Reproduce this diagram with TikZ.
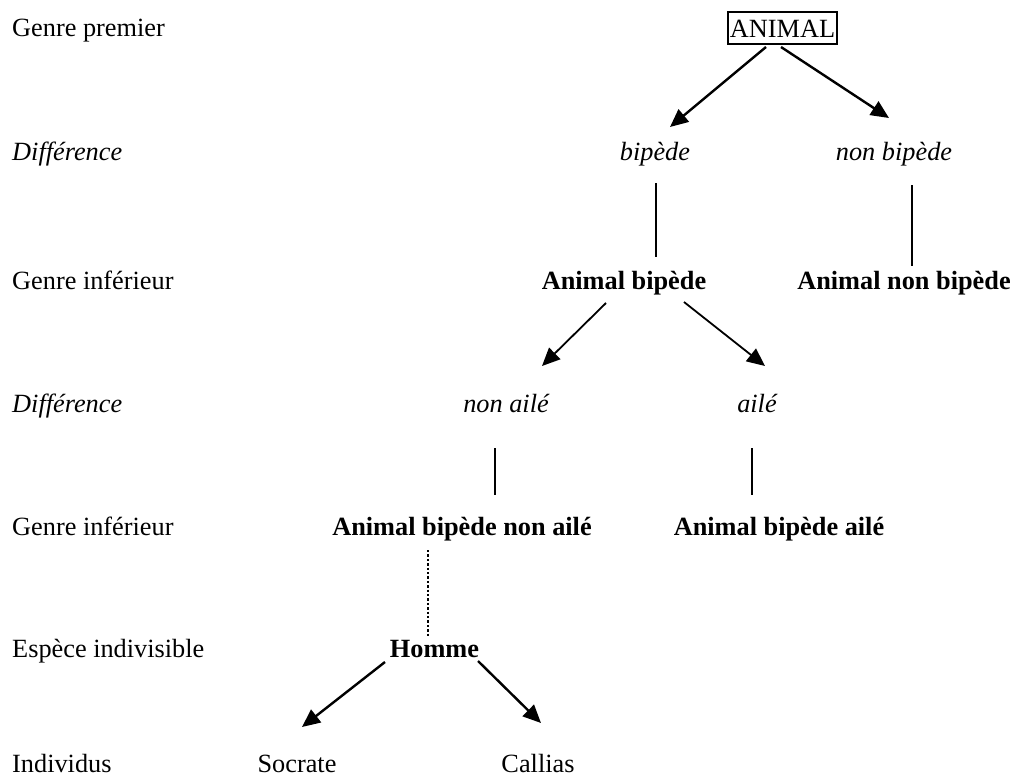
\documentclass[tikz,border=0pt]{standalone}
\usepackage{fontspec}
\setmainfont{Liberation Serif}
\usepackage{tikz}
\usetikzlibrary{arrows.meta,calc}

\begin{document}
\begin{tikzpicture}[x=1pt, y=-1pt,
    txt/.style={inner sep=0pt, anchor=base, font=\fontsize{26.3}{30}\selectfont},
    rang/.style={txt, anchor=base west},
    diff/.style={txt, font=\fontsize{26.3}{30}\selectfont\itshape},
    genre/.style={txt, font=\fontsize{26.3}{30}\selectfont\bfseries},
    fleche/.style={line width=2.4pt, -{Triangle[length=18pt,width=16pt]}},
    trait/.style={line width=2.4pt}]

  \useasboundingbox (0,0) rectangle (1013,782);

  % colonne de gauche
  \node[rang] (r1) at (12,36) {Genre premier};
  \node[rang, font=\fontsize{26.3}{30}\selectfont\itshape] (r2) at (12,160) {Différence};
  \node[rang] (r3) at (12,289) {Genre inférieur};
  \node[rang, font=\fontsize{26.3}{30}\selectfont\itshape] (r4) at (12,412) {Différence};
  \node[rang] (r5) at (12,535) {Genre inférieur};
  \node[rang] (r6) at (12,657) {Espèce indivisible};
  \node[rang] (r7) at (12,772) {Individus};

  % arbre
  \node[txt, draw, line width=1.6pt, inner xsep=2pt, text height=25pt, text depth=7pt]
    (animal) at (782.5,37) {ANIMAL};
  \node[diff] (bipede) at (655,160) {bipède};
  \node[diff] (nonbipede) at (894,160) {non bipède};
  \node[genre] (abip) at (624,289) {Animal bipède};
  \node[genre] (anonbip) at (904,289) {Animal non bipède};
  \node[diff] (nonaile) at (506,412) {non ailé};
  \node[diff] (aile) at (757,412) {ailé};
  \node[genre] (abipna) at (462,535) {Animal bipède non ailé};
  \node[genre] (abipa) at (779,535) {Animal bipède ailé};
  \node[genre] (homme) at (434.5,657) {Homme};
  \node[txt] (socrate) at (297,772) {Socrate};
  \node[txt] (callias) at (538,772) {Callias};

  \draw[fleche] ($(animal.base)+(-16.5,10)$) -- ($(bipede.base)+(15,-33)$);
  \draw[fleche] ($(animal.base)+(-1.5,10)$) -- ($(nonbipede.base)+(-5,-42)$);
  \draw[trait] ($(bipede.base)+(1,23)$) -- ($(abip.base)+(32,-32)$);
  \draw[trait] ($(nonbipede.base)+(18,25)$) -- ($(anonbip.base)+(8,-23)$);

  \draw[fleche, line width=1.8pt] ($(abip.base)+(-18,14)$) -- ($(nonaile.base)+(36,-46)$);
  \draw[fleche, line width=1.8pt] ($(abip.base)+(60,13)$) -- ($(aile.base)+(8,-46)$);
  \draw[trait] ($(nonaile.base)+(-11,36)$) -- ($(abipna.base)+(33,-40)$);
  \draw[trait] ($(aile.base)+(-5,36)$) -- ($(abipa.base)+(-27,-40)$);

  \draw[line width=2.6pt, dash pattern=on 2.4pt off 2pt] ($(abipna.base)+(-34,15)$) -- ($(homme.base)+(-6.5,-20)$);
  \draw[fleche] ($(homme.base)+(-49.5,5)$) -- ($(socrate.base)+(5,-45)$);
  \draw[fleche] ($(homme.base)+(43.5,4)$) -- ($(callias.base)+(3,-49)$);

\end{tikzpicture}
\end{document}
